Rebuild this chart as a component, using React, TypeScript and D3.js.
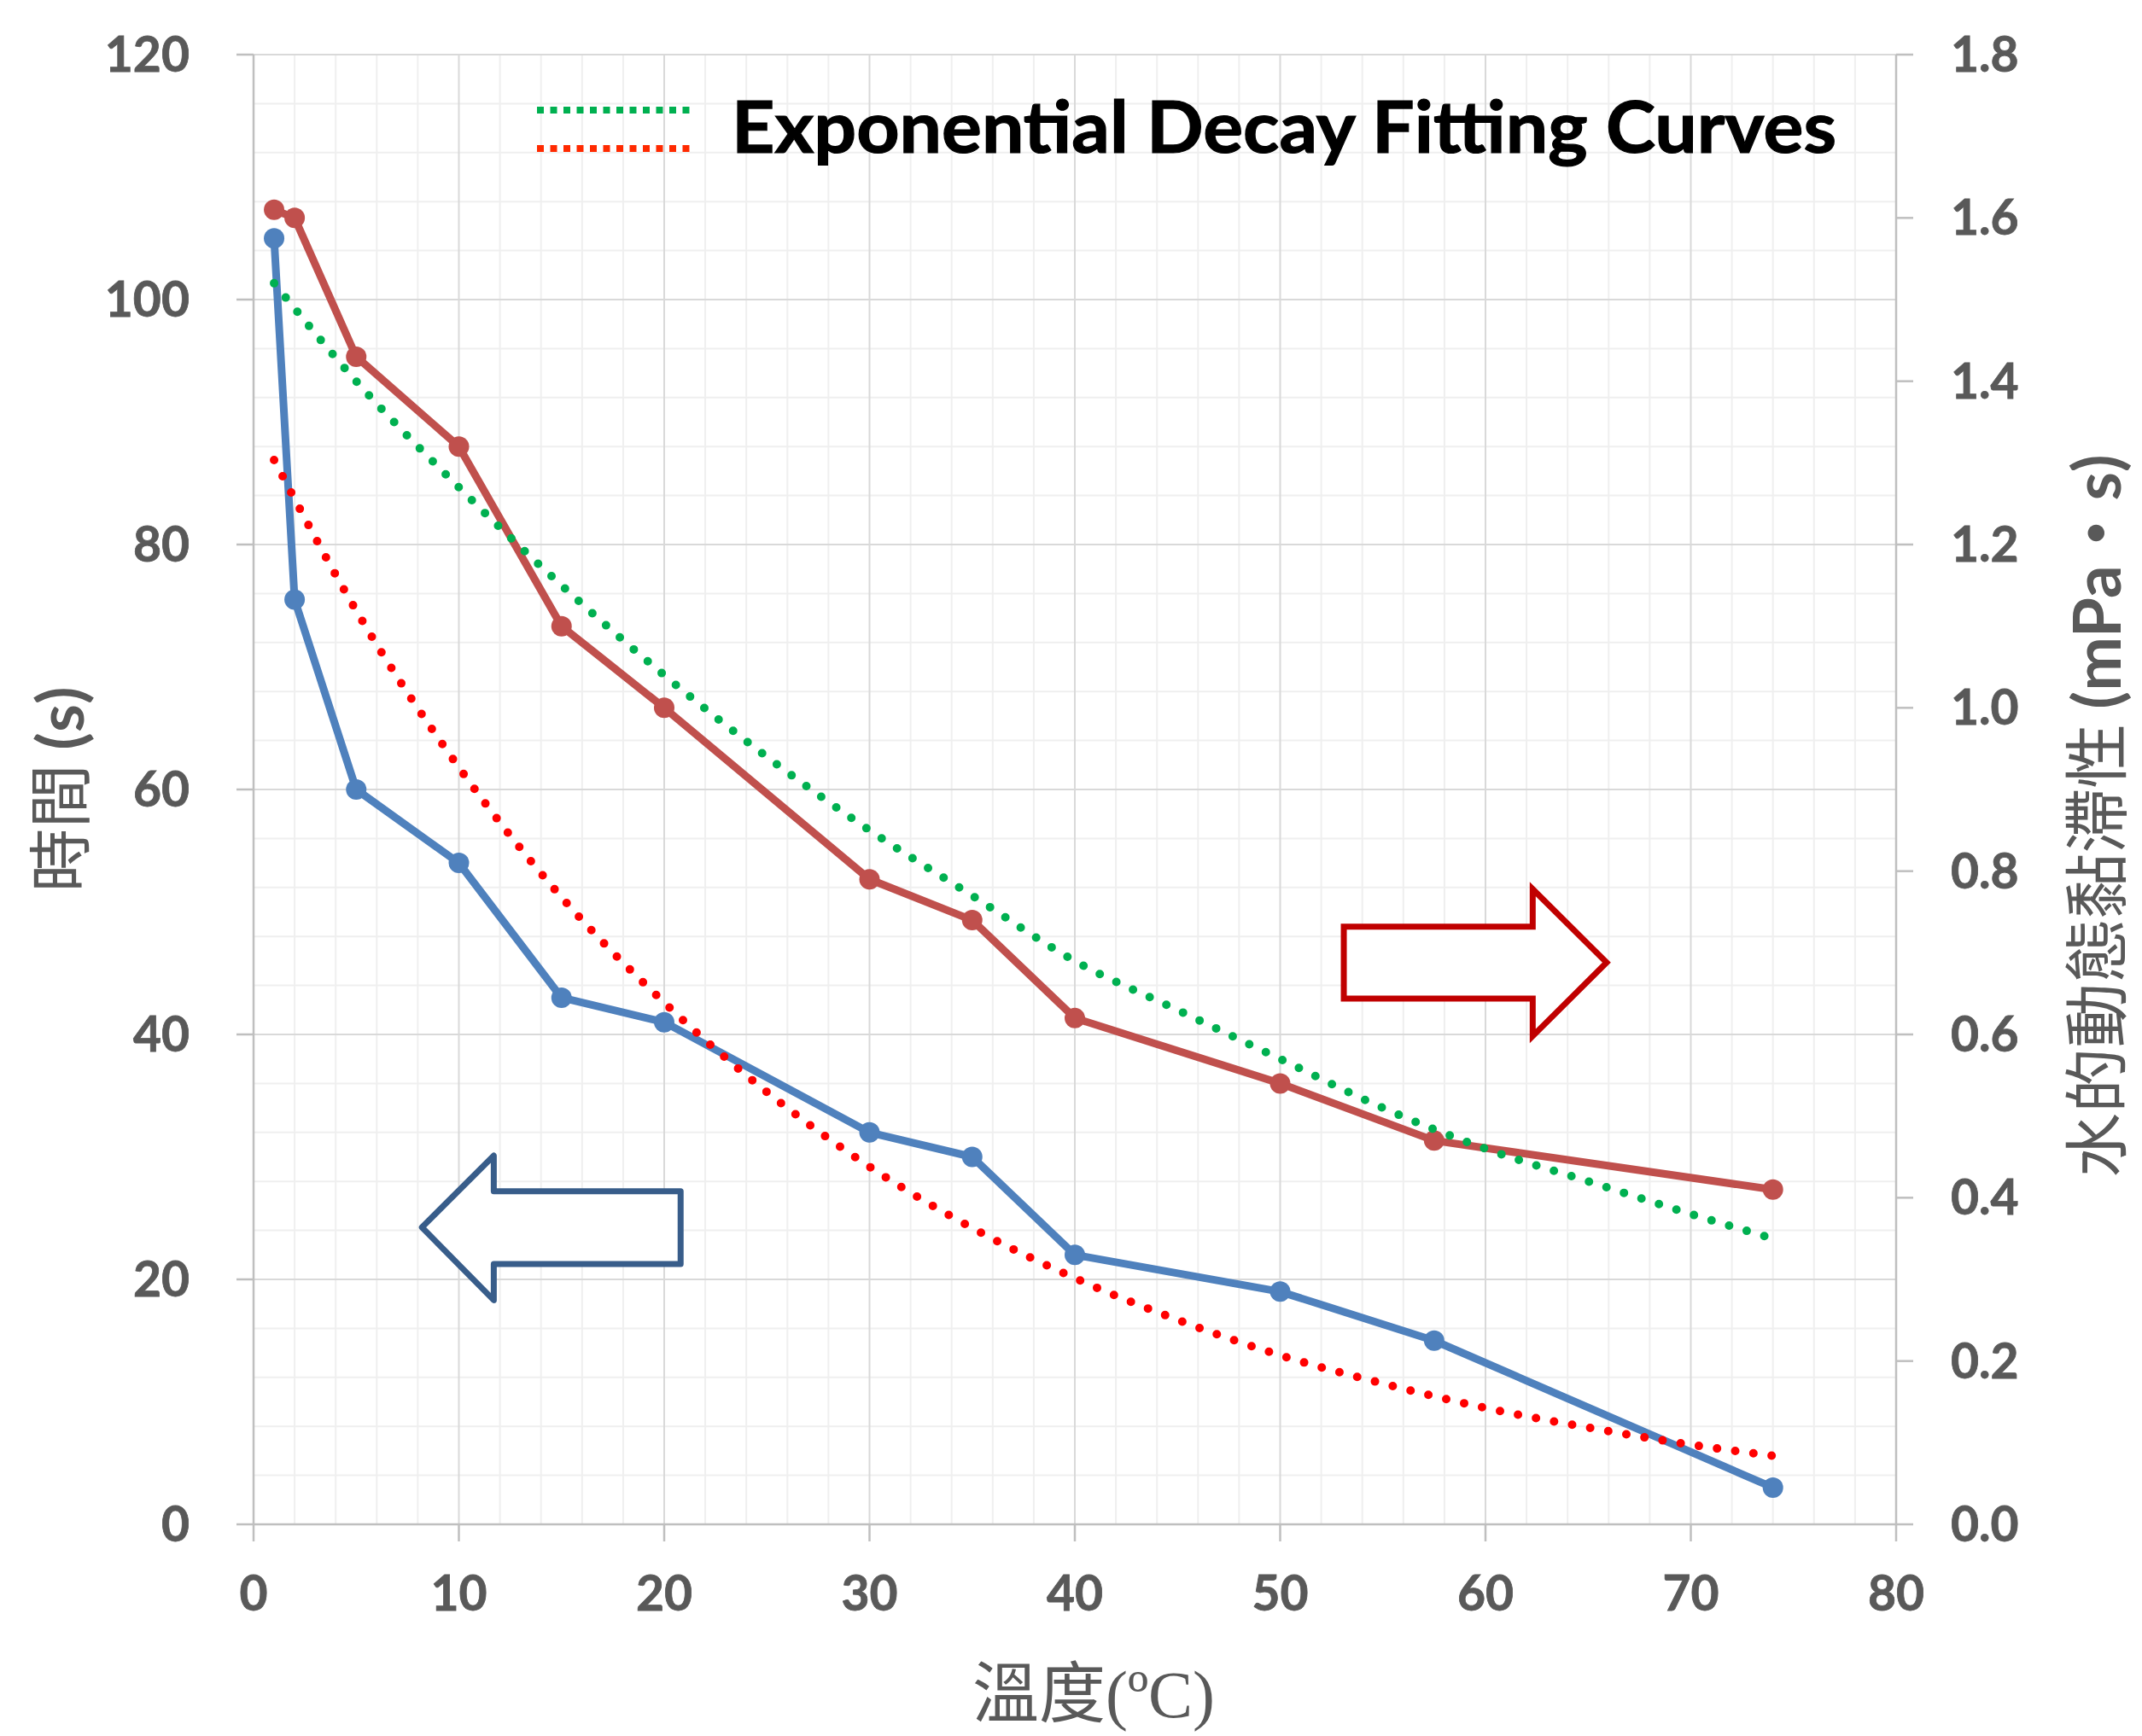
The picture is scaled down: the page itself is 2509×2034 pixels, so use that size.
import React from 'react';
import * as d3 from 'd3';

// ---- data ----
const temps = [1, 2, 5, 10, 15, 20, 30, 35, 40, 50, 57.5, 74];
const timeSec = [105, 75.5, 60, 54, 43, 41, 32, 30, 22, 19, 15, 3];
const viscosity = [1.61, 1.6, 1.43, 1.32, 1.1, 1.0, 0.79, 0.74, 0.62, 0.54, 0.47, 0.41];

const fitTemps = [1, 5, 10, 15, 20, 25, 30, 35, 40, 45, 50, 55, 60, 65, 70, 74];
const viscosityFit = [1.52, 1.4, 1.27, 1.15, 1.04, 0.94, 0.85, 0.77, 0.69, 0.63, 0.57, 0.51, 0.46, 0.42, 0.38, 0.35];
const timeFit = [86.9, 74.6, 61.8, 51.2, 42.6, 35.3, 29.2, 24.2, 20.1, 16.7, 13.8, 11.5, 9.5, 7.9, 6.5, 5.6];

const xTicks = [0, 10, 20, 30, 40, 50, 60, 70, 80];
const leftTicks = [0, 20, 40, 60, 80, 100, 120];
const rightTicks = [0, 0.2, 0.4, 0.6, 0.8, 1.0, 1.2, 1.4, 1.6, 1.8];

const legendLabel = 'Exponential Decay Fitting Curves';
const xTitleCJK = '溫度';
const xTitleUnit = '(ºC)';
const leftTitleCJK = '時間 ';
const leftTitleUnit = '(s)';
const rightTitleCJK = '水的動態黏滯性 ';
const rightTitleUnit = '(mPa・s)';

// arrow annotations in data units: [x, y]
const rightArrow = [
  [53.1, 0.732], [62.3, 0.732], [62.3, 0.778], [65.9, 0.688],
  [62.3, 0.598], [62.3, 0.644], [53.1, 0.644],
];
const leftArrow = [
  [8.2, 24.25], [11.7, 30.1], [11.7, 27.2], [20.8, 27.2],
  [20.8, 21.25], [11.7, 21.25], [11.7, 18.3],
];

const W = 2509;
const H = 2034;
const L = 297;
const R = 2221;
const T = 64;
const B = 1786;

const GRAY = '#595959';
const tickFont = 'Lato, "Open Sans", sans-serif';

export default function App() {
  const x = d3.scaleLinear().domain([0, 80]).range([L, R]);
  const yL = d3.scaleLinear().domain([0, 120]).range([B, T]);
  const yR = d3.scaleLinear().domain([0, 1.8]).range([B, T]);

  const minorX = d3.range(0, 81, 2).filter((v) => v % 10 !== 0);
  const minorY = d3.range(0, 121, 4).filter((v) => v % 20 !== 0);

  const lineL = d3
    .line<number>()
    .x((_, i) => x(temps[i]))
    .y((d) => yL(d));
  const lineR = d3
    .line<number>()
    .x((_, i) => x(temps[i]))
    .y((d) => yR(d));
  const fitLineL = d3
    .line<number>()
    .x((_, i) => x(fitTemps[i]))
    .y((d) => yL(d))
    .curve(d3.curveMonotoneX);
  const fitLineR = d3
    .line<number>()
    .x((_, i) => x(fitTemps[i]))
    .y((d) => yR(d))
    .curve(d3.curveMonotoneX);

  const arrowPath = (pts: number[][], ys: d3.ScaleLinear<number, number>) =>
    'M' + pts.map((p) => `${x(p[0])},${ys(p[1])}`).join('L') + 'Z';

  return (
    <svg
      width={W}
      height={H}
      style={{ position: 'absolute', left: 0, top: 0, background: '#fff' }}
    >
      <rect x={0} y={0} width={W} height={H} fill="#fff" />
      {/* minor grid */}
      {minorX.map((v) => (
        <line key={'mx' + v} x1={x(v)} x2={x(v)} y1={T} y2={B} stroke="#efefef" strokeWidth={2} />
      ))}
      {minorY.map((v) => (
        <line key={'my' + v} x1={L} x2={R} y1={yL(v)} y2={yL(v)} stroke="#efefef" strokeWidth={2} />
      ))}
      {/* major grid */}
      {xTicks.slice(1, -1).map((v) => (
        <line key={'gx' + v} x1={x(v)} x2={x(v)} y1={T} y2={B} stroke="#d9d9d9" strokeWidth={2} />
      ))}
      {leftTicks.slice(1).map((v) => (
        <line key={'gy' + v} x1={L} x2={R} y1={yL(v)} y2={yL(v)} stroke="#d9d9d9" strokeWidth={2} />
      ))}
      {/* axes */}
      <line x1={L} x2={L} y1={T} y2={B} stroke="#bfbfbf" strokeWidth={2.5} />
      <line x1={R} x2={R} y1={T} y2={B} stroke="#bfbfbf" strokeWidth={2.5} />
      <line x1={L} x2={R} y1={B} y2={B} stroke="#bfbfbf" strokeWidth={2.5} />
      {leftTicks.map((v) => (
        <line key={'tl' + v} x1={L - 20} x2={L} y1={yL(v)} y2={yL(v)} stroke="#bfbfbf" strokeWidth={2.5} />
      ))}
      {rightTicks.map((v) => (
        <line key={'tr' + v} x1={R} x2={R + 20} y1={yR(v)} y2={yR(v)} stroke="#bfbfbf" strokeWidth={2.5} />
      ))}
      {xTicks.map((v) => (
        <line key={'tx' + v} x1={x(v)} x2={x(v)} y1={B} y2={B + 20} stroke="#bfbfbf" strokeWidth={2.5} />
      ))}
      {/* tick labels */}
      {leftTicks.map((v) => (
        <text key={'ll' + v} x={222} y={yL(v) + 20} textAnchor="end" fontFamily={tickFont} fontWeight="bold" fontSize={57} fill={GRAY} stroke={GRAY} strokeWidth={0.8}>
          {v}
        </text>
      ))}
      {rightTicks.map((v) => (
        <text key={'rl' + v} x={2285} y={yR(v) + 20} textAnchor="start" fontFamily={tickFont} fontWeight="bold" fontSize={57} fill={GRAY} stroke={GRAY} strokeWidth={0.8}>
          {v.toFixed(1)}
        </text>
      ))}
      {xTicks.map((v) => (
        <text key={'xl' + v} x={x(v)} y={1887} textAnchor="middle" fontFamily={tickFont} fontWeight="bold" fontSize={57} fill={GRAY} stroke={GRAY} strokeWidth={0.8}>
          {v}
        </text>
      ))}
      {/* arrows */}
      <path d={arrowPath(rightArrow, yR)} fill="#fff" stroke="#C00000" strokeWidth={7} strokeLinejoin="miter" />
      <path d={arrowPath(leftArrow, yL)} fill="#fff" stroke="#385D8A" strokeWidth={7} strokeLinejoin="round" />
      {/* data lines */}
      <path d={lineL(timeSec) || ''} fill="none" stroke="#4F81BD" strokeWidth={9} strokeLinejoin="round" />
      {timeSec.map((v, i) => (
        <circle key={'bp' + i} cx={x(temps[i])} cy={yL(v)} r={12} fill="#4F81BD" />
      ))}
      <path d={lineR(viscosity) || ''} fill="none" stroke="#C0504D" strokeWidth={9} strokeLinejoin="round" />
      {viscosity.map((v, i) => (
        <circle key={'rp' + i} cx={x(temps[i])} cy={yR(v)} r={12} fill="#C0504D" />
      ))}
      {/* fitting curves */}
      <path d={fitLineR(viscosityFit) || ''} fill="none" stroke="#00B050" strokeWidth={10} strokeLinecap="round" strokeDasharray="0 21.5" />
      <path d={fitLineL(timeFit) || ''} fill="none" stroke="#FF0000" strokeWidth={10} strokeLinecap="round" strokeDasharray="0 21.5" />
      {/* legend */}
      <line x1={629} x2={814} y1={129} y2={129} stroke="#00B050" strokeWidth={8} strokeDasharray="8 7.5" />
      <line x1={629} x2={814} y1={174} y2={174} stroke="#FF2A00" strokeWidth={8} strokeDasharray="8 7.5" />
      <text x={857} y={179} fontFamily={tickFont} fontWeight="bold" fontSize={84} fill="#000" stroke="#000" strokeWidth={1.2} textLength={1294} lengthAdjust="spacingAndGlyphs">
        {legendLabel}
      </text>
      {/* axis titles */}
      <text x={1281} y={2012} textAnchor="middle" fontSize={78} fill={GRAY}>
        <tspan fontFamily='"Noto Sans CJK TC", sans-serif'>{xTitleCJK}</tspan>
        <tspan fontFamily='"Liberation Serif", serif'>{xTitleUnit}</tspan>
      </text>
      <text transform="translate(98,925) rotate(-90)" textAnchor="middle" fontSize={75} fill={GRAY}>
        <tspan fontFamily='"Noto Sans CJK TC", sans-serif'>{leftTitleCJK}</tspan>
        <tspan fontFamily={tickFont} fontWeight="bold">{leftTitleUnit}</tspan>
      </text>
      <text transform="translate(2484,956) rotate(-90)" textAnchor="middle" fontSize={76} fill={GRAY}>
        <tspan fontFamily='"Noto Sans CJK TC", sans-serif'>{rightTitleCJK}</tspan>
        <tspan fontFamily='Lato, "Noto Sans CJK TC", sans-serif' fontWeight="bold">{rightTitleUnit}</tspan>
      </text>
    </svg>
  );
}
